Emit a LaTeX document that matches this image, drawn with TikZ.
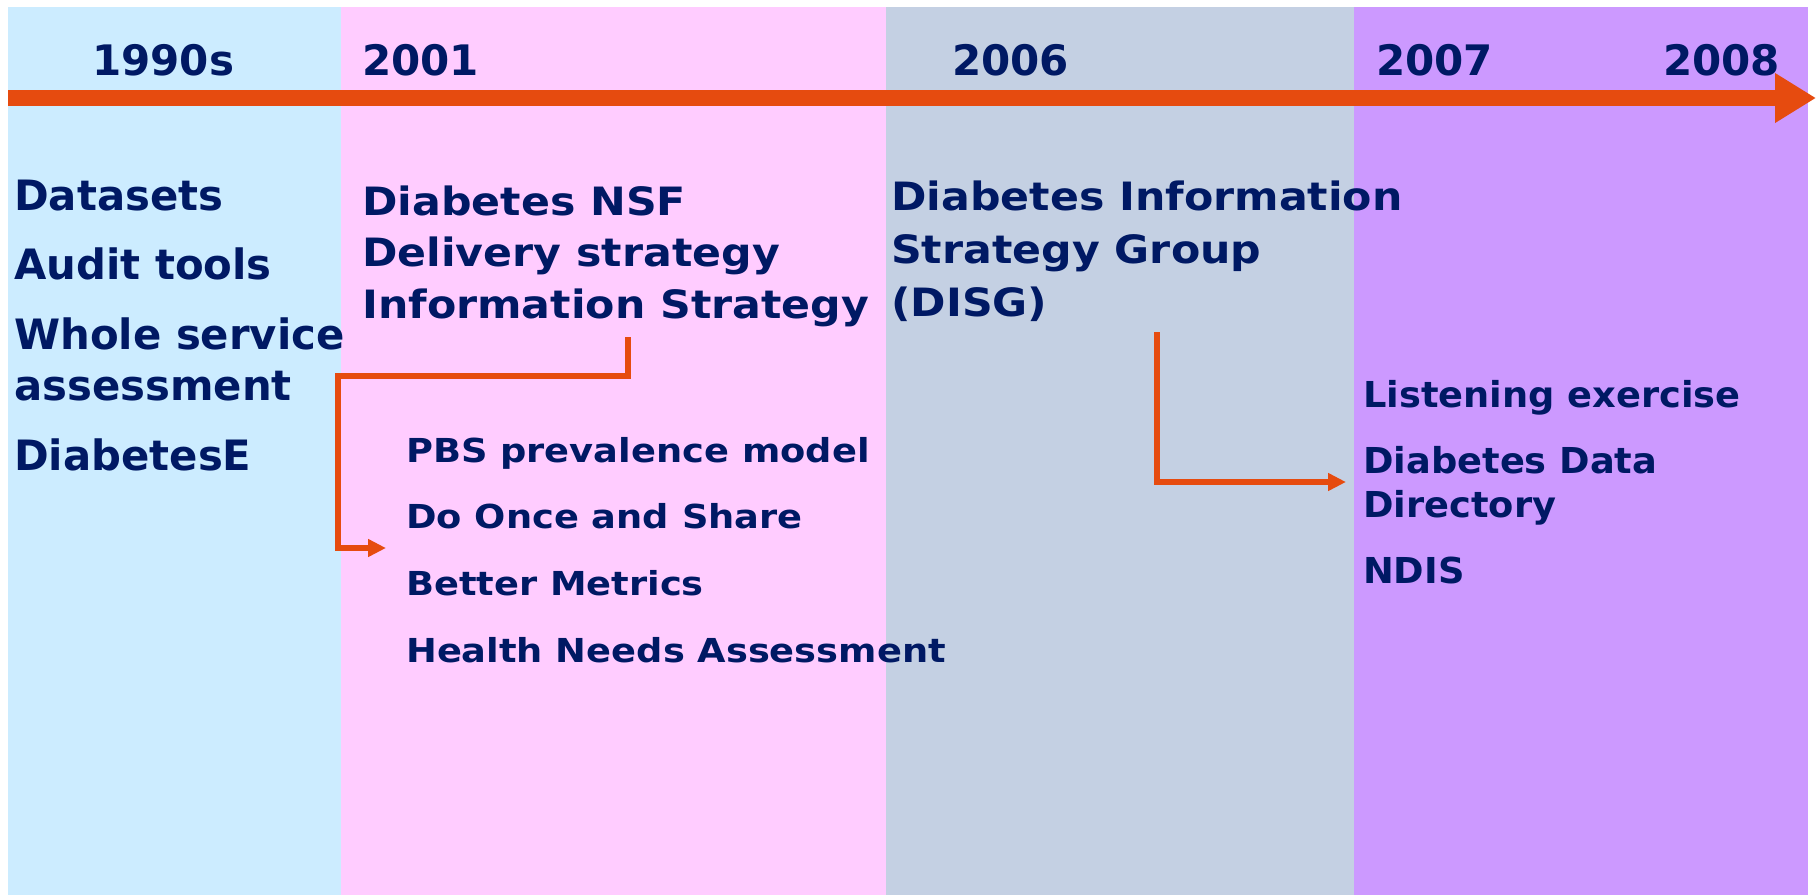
\documentclass[tikz,border=0pt]{standalone}
\usepackage{fontspec}
\setmainfont{DejaVu Sans}
\newfontfamily\fmid{DejaVu Sans}[FakeStretch=1.095]
\newfontfamily\fsmall{DejaVu Sans}[FakeStretch=1.115]
\newfontfamily\fpurple{DejaVu Sans}[FakeStretch=1.03]
\usetikzlibrary{arrows.meta}
\definecolor{bandblue}{RGB}{204,236,255}
\definecolor{bandpink}{RGB}{255,204,255}
\definecolor{bandgray}{RGB}{196,208,227}
\definecolor{bandpurple}{RGB}{204,153,255}
\definecolor{axisorange}{RGB}{230,75,15}
\definecolor{navy}{RGB}{0,25,100}
\newcommand{\linesof}[1]{\vtop{\halign{##\hfil\cr#1\crcr}}}
\newcommand{\yrfont}{\fontsize{42}{50}\selectfont\bfseries}
\newcommand{\leftfont}{\fontsize{41.8}{51}\selectfont\bfseries}
\newcommand{\midfont}{\fmid\fontsize{39}{51.5}\selectfont\bfseries}
\newcommand{\grayfont}{\fmid\fontsize{39}{53}\selectfont\bfseries}
\newcommand{\smallfont}{\fsmall\fontsize{33}{44}\selectfont\bfseries}
\newcommand{\purplefont}{\fpurple\fontsize{35.7}{44}\selectfont\bfseries}
\tikzset{
  txt/.style={anchor=base west, inner sep=0pt, text=navy},
  yr/.style={txt, font=\yrfont},
  leftitem/.style={txt, font=\leftfont},
  miditem/.style={txt, font=\midfont},
  grayitem/.style={txt, font=\grayfont},
  smallitem/.style={txt, font=\smallfont},
  purpleitem/.style={txt, font=\purplefont},
  axis/.style={draw=axisorange, line width=16pt, -{Triangle[length=41pt,width=47pt]}},
  conn/.style={draw=axisorange, line width=6pt, -{Triangle[length=18pt,width=17pt]}}
}
\begin{document}
\begin{tikzpicture}[x=1pt,y=-1pt]
\useasboundingbox (0,0) rectangle (1816,895);
% bands
\fill[bandblue]   (8,7)    rectangle (341,895);
\fill[bandpink]   (341,7)  rectangle (886,895);
\fill[bandgray]   (886,7)  rectangle (1354,895);
\fill[bandpurple] (1354,7) rectangle (1808,895);
% timeline
\coordinate (tstart) at (8,98);
\coordinate (tend) at (1816,98);
\draw[axis] (tstart) -- (tend);
% years
\node[yr] (y1990) at (92,75)   {1990s};
\node[yr] (y2001) at (362,75)  {2001};
\node[yr] (y2006) at (952,75)  {2006};
\node[yr] (y2007) at (1376,75) {2007};
\node[yr] (y2008) at (1663,75) {2008};
% 1990s column
\node[leftitem] (datasets) at (14,210) {Datasets};
\node[leftitem] (audit)    at (14,279) {Audit tools};
\node[leftitem] (whole)    at (14,349) {\linesof{Whole service\cr assessment}};
\node[leftitem] (diabe)    at (14,470) {DiabetesE};
% 2001 column
\node[miditem] (nsf) at (362,215) {\linesof{Diabetes NSF\cr Delivery strategy\cr Information Strategy}};
\node[smallitem] (pbs)    at (406,462) {PBS prevalence model};
\node[smallitem] (once)   at (406,528) {Do Once and Share};
\node[smallitem] (better) at (406,595) {Better Metrics};
\node[smallitem] (health) at (406,662) {Health Needs Assessment};
% 2006 column
\node[grayitem] (disg) at (891,210) {\linesof{Diabetes Information\cr Strategy Group\cr (DISG)}};
% 2007 column
\node[purpleitem] (listen) at (1363,407) {Listening exercise};
\node[purpleitem] (ddd)    at (1363,473) {\linesof{Diabetes Data\cr Directory}};
\node[purpleitem] (ndis)   at (1363,583) {NDIS};
% connectors
\coordinate (s1) at (628,337);
\coordinate (e1) at (386,548);
\draw[conn] (s1) |- (338,376) |- (e1);
\coordinate (s2) at (1157,332);
\coordinate (e2) at (1346,482);
\draw[conn] (s2) |- (e2);
\end{tikzpicture}
\end{document}
